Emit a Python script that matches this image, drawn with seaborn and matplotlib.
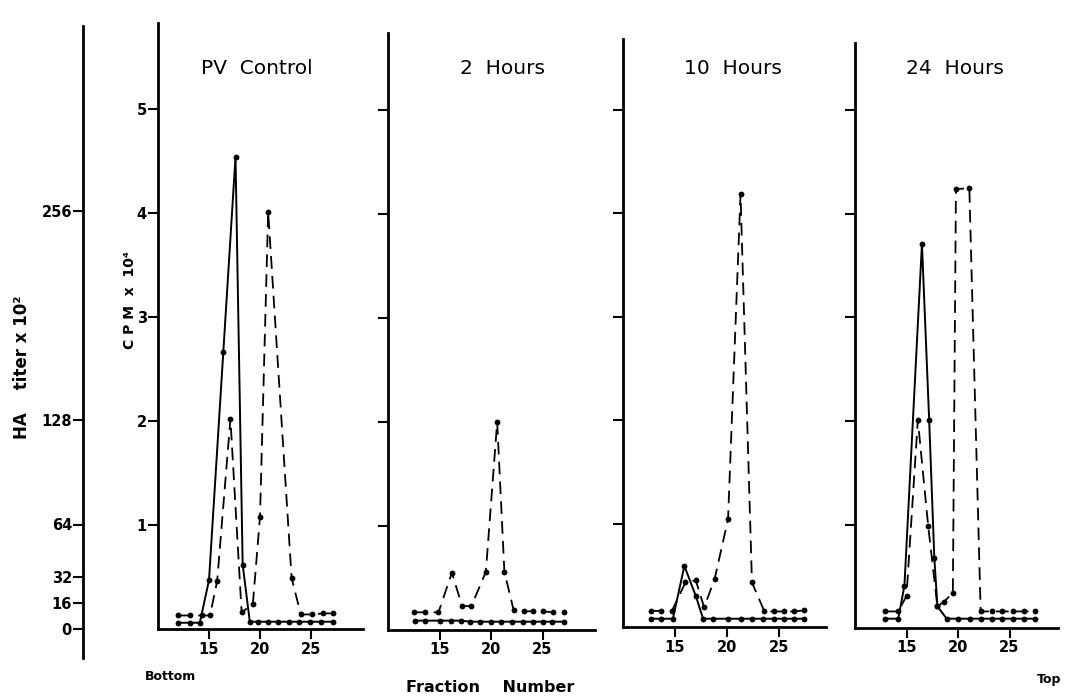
import matplotlib
matplotlib.use("Agg")
import matplotlib.pyplot as plt
import seaborn as sns
import pandas as pd

sns.set_theme(style="ticks")
plt.rcParams["font.family"] = ["DejaVu Sans"]
plt.rcParams.update({"text.color": "black", "axes.edgecolor": "black",
                     "xtick.color": "black", "ytick.color": "black",
                     "axes.labelcolor": "black"})

# ---------------- data (fraction number, CPM x 10^4) ----------------
panel_titles = ["PV  Control", "2  Hours", "10  Hours", "24  Hours"]

# PV control
pv_solid_x = [12.0, 13.1, 14.1, 15.0, 16.4, 17.6, 18.3, 19.0, 19.8, 20.8, 21.8, 22.8, 23.8, 24.9, 26.0, 27.2]
pv_solid_y = [0.06, 0.06, 0.06, 0.47, 2.66, 4.54, 0.62, 0.07, 0.07, 0.07, 0.07, 0.07, 0.07, 0.07, 0.07, 0.07]
pv_dash_x = [12.0, 13.1, 14.3, 15.1, 15.8, 17.1, 18.2, 19.3, 20.0, 20.8, 23.1, 24.0, 25.1, 26.2, 27.2]
pv_dash_y = [0.13, 0.13, 0.13, 0.13, 0.46, 2.02, 0.16, 0.24, 1.08, 4.01, 0.49, 0.14, 0.14, 0.15, 0.15]

# 2 hours
h2_solid_x = [12.6, 13.6, 15.0, 16.1, 17.1, 18.0, 18.9, 20.0, 21.0, 22.0, 23.1, 24.1, 25.0, 25.9, 27.1]
h2_solid_y = [0.09, 0.09, 0.09, 0.09, 0.09, 0.08, 0.08, 0.08, 0.08, 0.08, 0.08, 0.08, 0.08, 0.08, 0.08]
h2_dash_x = [12.5, 13.6, 14.9, 16.2, 17.2, 18.1, 19.5, 20.6, 21.3, 22.2, 23.2, 24.1, 25.0, 26.0, 27.1]
h2_dash_y = [0.17, 0.17, 0.17, 0.55, 0.23, 0.23, 0.56, 2.00, 0.56, 0.19, 0.18, 0.18, 0.18, 0.17, 0.17]

# 10 hours
h10_solid_x = [12.7, 13.7, 14.8, 15.9, 17.0, 17.7, 18.7, 20.1, 21.3, 22.4, 23.5, 24.5, 25.5, 26.4, 27.4]
h10_solid_y = [0.08, 0.08, 0.08, 0.59, 0.30, 0.08, 0.08, 0.08, 0.08, 0.08, 0.08, 0.08, 0.08, 0.08, 0.08]
h10_dash_x = [12.7, 13.7, 14.7, 16.0, 17.0, 17.8, 18.8, 20.1, 21.3, 22.4, 23.6, 24.5, 25.5, 26.4, 27.4]
h10_dash_y = [0.155, 0.155, 0.155, 0.43, 0.45, 0.19, 0.46, 1.04, 4.18, 0.43, 0.15, 0.15, 0.15, 0.15, 0.16]

# 24 hours
h24_solid_x = [12.9, 14.2, 14.8, 16.5, 17.2, 17.7, 18.0, 18.9, 20.0, 21.2, 22.2, 23.3, 24.3, 25.3, 26.4, 27.5]
h24_solid_y = [0.09, 0.09, 0.41, 3.71, 2.01, 0.68, 0.21, 0.09, 0.09, 0.09, 0.09, 0.09, 0.09, 0.09, 0.09, 0.09]
h24_dash_x = [12.9, 14.2, 15.0, 16.1, 17.1, 18.0, 18.6, 19.5, 19.8, 21.1, 22.2, 23.3, 24.3, 25.3, 26.4, 27.5]
h24_dash_y = [0.16, 0.16, 0.31, 2.01, 0.99, 0.21, 0.25, 0.34, 4.24, 4.25, 0.16, 0.16, 0.16, 0.16, 0.16, 0.16]

solid_series = [(pv_solid_x, pv_solid_y), (h2_solid_x, h2_solid_y),
                (h10_solid_x, h10_solid_y), (h24_solid_x, h24_solid_y)]
dash_series = [(pv_dash_x, pv_dash_y), (h2_dash_x, h2_dash_y),
               (h10_dash_x, h10_dash_y), (h24_dash_x, h24_dash_y)]

cpm_ticks = [1, 2, 3, 4, 5]
cpm_ticklabels = ["1", "2", "3", "4", "5"]
frac_ticks = [15, 20, 25]
ha_ticks = [0, 16, 32, 64, 128, 256]

# ---------------- layout (pixels) ----------------
W, H = 1066, 696
fig = plt.figure(figsize=(W / 100, H / 100), dpi=100)
fig.patch.set_facecolor("white")


def rect(left, right, zero, top):
    return [left / W, (H - zero) / H, (right - left) / W, (zero - top) / H]


# panel geometry: left, right, zero-line y, top y, px per CPM unit, px per fraction
panels_geo = [
    (158, 363, 629, 23, 104.0, 10.2),
    (388, 595, 630, 33, 104.0, 10.3),
    (623, 826, 627, 39, 103.5, 10.4),
    (855, 1058, 628, 43, 103.5, 10.3),
]
title_cx = [257, 502, 733, 955]

SPINE_W = 2.0

# HA axis (left standalone axis)
ha_zero, ha_top, ha_bot = 629, 26, 658
ha_ppu = (629 - 211) / 256.0
ax_ha = fig.add_axes([83 / W, (H - ha_bot) / H, 0.001, (ha_bot - ha_top) / H])
ax_ha.set_ylim(-(ha_bot - ha_zero) / ha_ppu, (ha_zero - ha_top) / ha_ppu)
ax_ha.set_xticks([])
ax_ha.set_yticks(ha_ticks)
ax_ha.set_yticklabels([str(t) for t in ha_ticks], fontsize=10.5, fontweight="bold")
for s in ["top", "right", "bottom"]:
    ax_ha.spines[s].set_visible(False)
ax_ha.spines["left"].set_linewidth(SPINE_W)
ax_ha.tick_params(axis="y", direction="out", length=7, width=1.5, pad=1)
ax_ha.patch.set_alpha(0)

for i, (L, R, Z, T, ppu, ppf) in enumerate(panels_geo):
    ax = fig.add_axes(rect(L, R, Z, T))
    ax.patch.set_alpha(0)
    sx, sy = solid_series[i]
    dx, dy = dash_series[i]
    df_s = pd.DataFrame({"fraction": sx, "cpm": sy})
    df_d = pd.DataFrame({"fraction": dx, "cpm": dy})
    sns.lineplot(data=df_s, x="fraction", y="cpm", ax=ax, sort=False, estimator=None,
                 color="black", linewidth=1.4, marker="o", markersize=4.2,
                 markeredgewidth=0)
    sns.lineplot(data=df_d, x="fraction", y="cpm", ax=ax, sort=False, estimator=None,
                 color="black", linewidth=1.3, linestyle=(0, (7, 4)), marker="o",
                 markersize=4.2, markeredgewidth=0)
    ax.set_xlim(10, 10 + (R - L) / ppf)
    ax.set_ylim(0, (Z - T) / ppu)
    ax.set_xlabel("")
    ax.set_ylabel("")
    ax.set_xticks(frac_ticks)
    ax.set_xticklabels([str(t) for t in frac_ticks], fontsize=10.5, fontweight="bold")
    ax.set_yticks(cpm_ticks)
    if i == 0:
        ax.set_yticklabels(cpm_ticklabels, fontsize=10.5, fontweight="bold")
    else:
        ax.set_yticklabels([])
    for s in ["top", "right"]:
        ax.spines[s].set_visible(False)
    for s in ["left", "bottom"]:
        ax.spines[s].set_linewidth(SPINE_W)
    ax.tick_params(axis="both", direction="out", length=7, width=1.5, pad=2)
    ax.tick_params(axis="y", pad=1)
    fig.text(title_cx[i] / W, 1 - 68 / H, panel_titles[i], ha="center", va="center",
             fontsize=14.5)

# axis labels
fig.text(22 / W, 1 - 367 / H, "HA    titer x 10²", rotation=90, ha="center", va="center",
         fontsize=12, fontweight="bold")
fig.text(130 / W, 1 - 300 / H, "C P M  x  10⁴", rotation=90, ha="center", va="center",
         fontsize=10, fontweight="bold")
fig.text(170 / W, 1 - 676 / H, "Bottom", ha="center", va="center", fontsize=9,
         fontweight="bold")
fig.text(490 / W, 1 - 687 / H, "Fraction    Number", ha="center", va="center",
         fontsize=11.5, fontweight="bold")
fig.text(1049 / W, 1 - 680 / H, "Top", ha="center", va="center", fontsize=9,
         fontweight="bold")

fig.savefig("out.png", dpi=100, facecolor="white")
